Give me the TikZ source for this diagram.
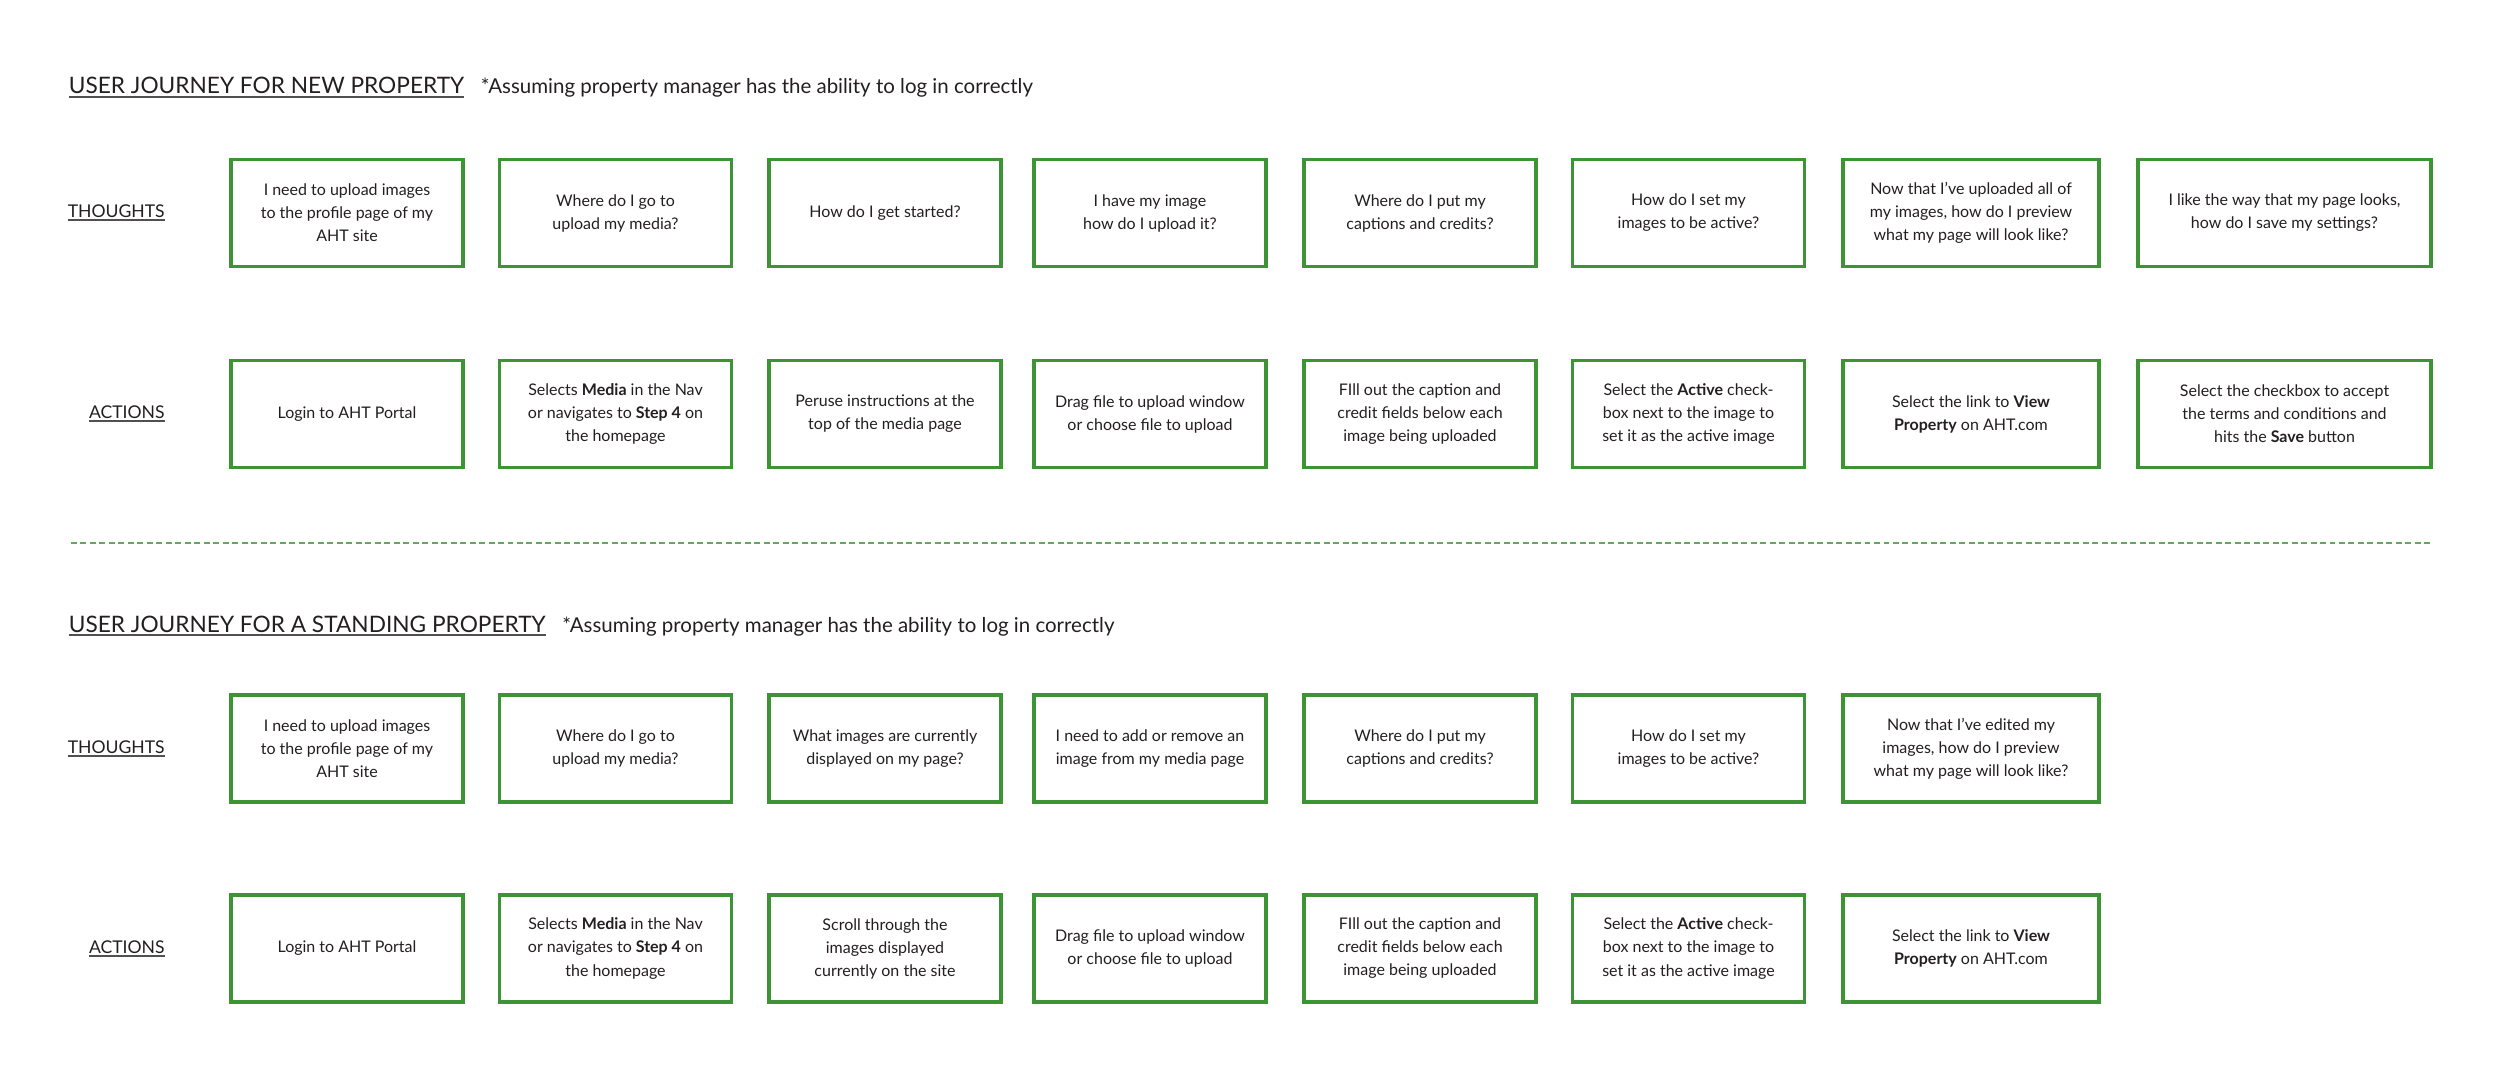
\documentclass[tikz,border=0pt]{standalone}
\usepackage{fontspec}
\setmainfont{Lato}
\usetikzlibrary{positioning}
\definecolor{cardgreen}{RGB}{60,148,52}
\definecolor{inkblack}{RGB}{35,31,32}
\definecolor{rulegray}{RGB}{80,80,80}
\newsavebox{\headbox}
\newcommand{\ulhead}[1]{\sbox{\headbox}{#1}\rlap{\textcolor{rulegray}{\rule[-2.1pt]{\wd\headbox}{1.2pt}}}\usebox{\headbox}}
\tikzset{
  journeycard/.style={draw=cardgreen, line width=2.05pt, fill=white, minimum width=4.64cm, minimum height=2.14cm, align=center, text=inkblack, font=\fontsize{9.1}{13.1}\selectfont, inner sep=2pt},
  widecard/.style={journeycard, minimum width=5.12cm},
  widercard/.style={journeycard, minimum width=5.86cm},
  rowlabel/.style={anchor=base east, text=inkblack, font=\fontsize{10}{12}\selectfont, inner sep=0pt},
  headlabel/.style={anchor=base west, text=inkblack, font=\fontsize{12.9}{15}\selectfont, inner sep=0pt},
  notelabel/.style={anchor=base west, text=inkblack, font=\fontsize{11.65}{14}\selectfont, inner sep=0pt},
  divider/.style={cardgreen!80, line width=1.1pt, dash pattern=on 3.4pt off 2pt}
}

\begin{document}
\begin{tikzpicture}
      \useasboundingbox (0,0) rectangle (50,-21.54);
      % new property
      \node[headlabel] (h1) at (1.37,-1.88) {\ulhead{USER JOURNEY FOR NEW PROPERTY}};
      \node[notelabel] (n1) at ([xshift=0.32cm]h1.base east) {*Assuming property manager has the ability to log in correctly};
      \node[rowlabel] (lt1) at (3.30,-4.35) {\ulhead{THOUGHTS}};
      \node[rowlabel] (la1) at (3.30,-8.37) {\ulhead{ACTIONS}};
      \node[journeycard] (t1) at (6.94,-4.26) {I need to upload images\\to the profile page of my\\AHT site};
      \node[journeycard] (t2) at (12.31,-4.26) {Where do I go to\\upload my media?};
      \node[journeycard] (t3) at (17.70,-4.26) {How do I get started?};
      \node[journeycard] (t4) at (23.00,-4.26) {I have my image\\how do I upload it?};
      \node[journeycard] (t5) at (28.40,-4.26) {Where do I put my\\captions and credits?};
      \node[journeycard] (t6) at (33.77,-4.26) {How do I set my\\images to be active?};
      \node[widecard] (t7) at (39.42,-4.26) {Now that I’ve uploaded all of\\my images, how do I preview\\what my page will look like?};
      \node[widercard] (t8) at (45.69,-4.26) {I like the way that my page looks,\\how do I save my settings?};
      \node[journeycard] (a1) at (6.94,-8.28) {Login to AHT Portal};
      \node[journeycard] (a2) at (12.31,-8.28) {Selects \textbf{Media} in the Nav\\or navigates to \textbf{Step 4} on\\the homepage};
      \node[journeycard] (a3) at (17.70,-8.28) {Peruse instructions at the\\top of the media page};
      \node[journeycard] (a4) at (23.00,-8.28) {Drag file to upload window\\or choose file to upload};
      \node[journeycard] (a5) at (28.40,-8.28) {FIll out the caption and\\credit fields below each\\image being uploaded};
      \node[journeycard] (a6) at (33.77,-8.28) {Select the \textbf{Active} check-\\box next to the image to\\set it as the active image};
      \node[widecard] (a7) at (39.42,-8.28) {Select the link to \textbf{View}\\\textbf{Property} on AHT.com};
      \node[widercard] (a8) at (45.69,-8.28) {Select the checkbox to accept\\the terms and conditions and\\hits the \textbf{Save} button};
      \coordinate (dl) at (1.42,-10.86);
      \coordinate (dr) at (48.64,-10.86);
      \draw[divider] (dl) -- (dr);
      % standing property
      \node[headlabel] (h2) at (1.37,-12.64) {\ulhead{USER JOURNEY FOR A STANDING PROPERTY}};
      \node[notelabel] (n2) at ([xshift=0.32cm]h2.base east) {*Assuming property manager has the ability to log in correctly};
      \node[rowlabel] (lt2) at (3.30,-15.06) {\ulhead{THOUGHTS}};
      \node[rowlabel] (la2) at (3.30,-19.06) {\ulhead{ACTIONS}};
      \node[journeycard] (s1) at (6.94,-14.97) {I need to upload images\\to the profile page of my\\AHT site};
      \node[journeycard] (s2) at (12.31,-14.97) {Where do I go to\\upload my media?};
      \node[journeycard] (s3) at (17.70,-14.97) {What images are currently\\displayed on my page?};
      \node[journeycard] (s4) at (23.00,-14.97) {I need to add or remove an\\image from my media page};
      \node[journeycard] (s5) at (28.40,-14.97) {Where do I put my\\captions and credits?};
      \node[journeycard] (s6) at (33.77,-14.97) {How do I set my\\images to be active?};
      \node[widecard] (s7) at (39.42,-14.97) {Now that I’ve edited my\\images, how do I preview\\what my page will look like?};
      \node[journeycard] (b1) at (6.94,-18.97) {Login to AHT Portal};
      \node[journeycard] (b2) at (12.31,-18.97) {Selects \textbf{Media} in the Nav\\or navigates to \textbf{Step 4} on\\the homepage};
      \node[journeycard] (b3) at (17.70,-18.97) {Scroll through the\\images displayed\\currently on the site};
      \node[journeycard] (b4) at (23.00,-18.97) {Drag file to upload window\\or choose file to upload};
      \node[journeycard] (b5) at (28.40,-18.97) {FIll out the caption and\\credit fields below each\\image being uploaded};
      \node[journeycard] (b6) at (33.77,-18.97) {Select the \textbf{Active} check-\\box next to the image to\\set it as the active image};
      \node[widecard] (b7) at (39.42,-18.97) {Select the link to \textbf{View}\\\textbf{Property} on AHT.com};
\end{tikzpicture}
\end{document}
